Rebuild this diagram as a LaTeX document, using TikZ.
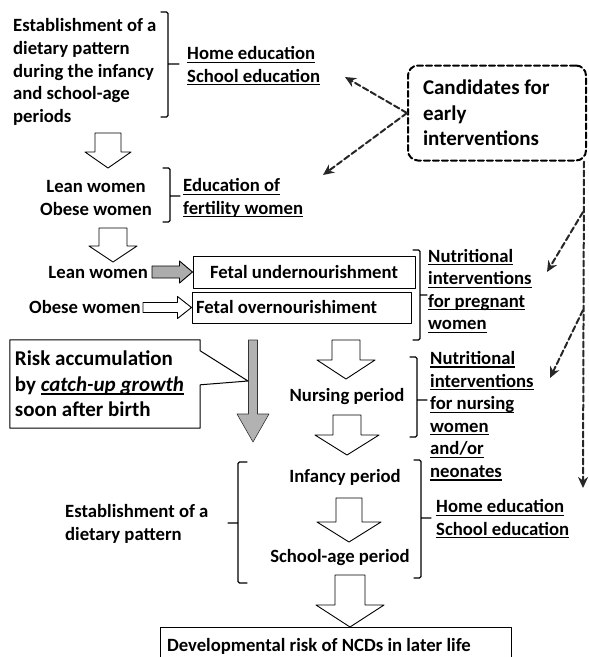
\documentclass[tikz,border=0pt]{standalone}
\usepackage{fontspec}
\setmainfont{Carlito}
\usetikzlibrary{arrows.meta,calc}

\newcommand{\ulw}[1]{\leavevmode\setbox0\hbox{#1}\rlap{\rule[-3.2pt]{\wd0}{1.2pt}}\box0}

\begin{document}
\begin{tikzpicture}[
  x=1pt, y=-1pt,
  line cap=round,
  line join=round,
  every node/.style={inner sep=0pt, font=\fontsize{18.7}{22.6}\selectfont\bfseries},
  txt/.style={anchor=west, align=flush left},
  bigtxt/.style={font=\fontsize{21}{25.5}\selectfont\bfseries},
  framebox/.style={draw, line width=1pt},
  bracket/.style={line width=1.3pt, rounded corners=1.5pt},
  blockdown/.style n args={3}{draw, line width=0.9pt, to path={
    let \p1=(\tikztostart), \p2=(\tikztotarget) in
    (\x1-#1,\y1) -- (\x1+#1,\y1) -- (\x1+#1,\y2+#3) -- (\x1+#2,\y2+#3)
    -- (\x2,\y2) -- (\x1-#2,\y2+#3) -- (\x1-#1,\y2+#3) -- cycle}},
  blockright/.style n args={3}{draw, line width=0.9pt, to path={
    let \p1=(\tikztostart), \p2=(\tikztotarget) in
    (\x1,\y1+#1) -- (\x1,\y1-#1) -- (\x2-#3,\y1-#1) -- (\x2-#3,\y1-#2)
    -- (\x2,\y2) -- (\x2-#3,\y1+#2) -- (\x2-#3,\y1+#1) -- cycle}},
  dasharr/.style={line width=2pt, black!85, dash pattern=on 6pt off 3pt,
    -{Stealth[length=11pt,width=10pt]}}
]
  \clip (0,0) rectangle (589,657);

  % Верхний блок
  \node[txt] (estab) at (13,72) {Establishment of a\\dietary pattern\\during the infancy\\and school-age\\periods};
  \node[txt] (home1) at (187,66) {\ulw{Home education}\\\ulw{School education}};
  \node[draw, line width=2pt, dash pattern=on 6pt off 3pt, rounded corners=10pt, bigtxt,
        align=flush left, text width=148pt, inner xsep=15pt, minimum height=95pt]
        (cand) at (497,113) {Candidates for\\early\\interventions};

  % Женщины
  \node[align=flush center] (women) at (96,198) {Lean women\\Obese women};
  \node[txt] (edu) at (183,198) {\ulw{Education of}\\\ulw{fertility women}};
  \node[anchor=east] (lean) at (148,272) {Lean women};
  \node[anchor=east] (obese) at (141,307.5) {Obese women};
  \node[framebox, minimum width=222pt, minimum height=32pt] (under) at (304,272) {Fetal undernourishment};
  \node[framebox, align=flush left, text width=211pt, inner xsep=4pt, minimum height=31pt]
        (over) at (301.5,307.5) {Fetal overnourishiment};
  \node[txt] (pregn) at (428,291) {\ulw{Nutritional}\\\ulw{interventions}\\\ulw{for pregnant}\\\ulw{women}};

  % После рождения
  \node[bigtxt, align=flush left, text width=180pt, inner xsep=5pt, minimum height=88pt]
        (risk) at (105,384) {Risk accumulation\\by \ulw{\itshape catch-up growth}\\soon after birth};
  \node (nursp) at (347,397) {Nursing period};
  \node[txt] (nurs) at (430,416) {\ulw{Nutritional}\\\ulw{interventions}\\\ulw{for nursing}\\\ulw{women}\\\ulw{and/or}\\\ulw{neonates}};
  \node (infp) at (345,477) {Infancy period};
  \node (schp) at (340,558) {School-age period};
  \node[txt] (estab2) at (65,524) {Establishment of a\\dietary pattern};
  \node[txt] (home2) at (436,519) {\ulw{Home education}\\\ulw{School education}};
  \node[framebox, align=flush left, text width=337pt, inner xsep=7pt, minimum height=38pt]
        (ncd) at (335.5,646) {Developmental risk of NCDs in later life};

  % Концы стрелок
  \coordinate (a1s) at (108,133);  \coordinate (a1e) at (108,168);
  \coordinate (a2s) at (113,228);  \coordinate (a2e) at (113,262);
  \coordinate (a3s) at (346,340);  \coordinate (a3e) at (346,379);
  \coordinate (a4s) at (347,415);  \coordinate (a4e) at (347,455);
  \coordinate (a5s) at (349,498);  \coordinate (a5e) at (349,542);
  \coordinate (a6s) at (350,575);  \coordinate (a6e) at (350,627);
  \coordinate (gs) at (152,272);   \coordinate (ge) at (under.west);
  \coordinate (ws) at (143,307.5); \coordinate (we) at (over.west);
  \coordinate (rs) at (253,340);   \coordinate (re) at (253,442);
  \coordinate (rt) at (248,381);
  \coordinate (t1) at (345,77);    \coordinate (t2) at (323,175);
  \coordinate (v0) at ([xshift=-3pt]cand.south east);
  \coordinate (v1) at (583,488);
  \coordinate (b1) at (583,212);   \coordinate (b1e) at (547,272);
  \coordinate (b2) at (583,310);   \coordinate (b2e) at (550,378);

  % Блочные стрелки
  \draw[blockdown={13pt}{23pt}{16pt}, fill=white] (a1s) to (a1e);
  \draw[blockdown={14pt}{24pt}{16pt}, fill=white] (a2s) to (a2e);
  \draw[blockdown={14pt}{29pt}{19pt}, fill=white] (a3s) to (a3e);
  \draw[blockdown={14pt}{32pt}{20pt}, fill=white] (a4s) to (a4e);
  \draw[blockdown={13pt}{32pt}{20pt}, fill=white] (a5s) to (a5e);
  \draw[blockdown={15pt}{34pt}{22pt}, fill=white] (a6s) to (a6e);
  \draw[blockright={6pt}{11pt}{13pt}, fill=gray!65] (gs) to (ge);
  \draw[blockright={5pt}{11pt}{14pt}, fill=white] (ws) to (we);
  \draw[blockdown={4.5pt}{16pt}{28pt}, fill=gray!60, draw=gray!40!black, line width=0.6pt] (rs) to (re);

  % Выноска
  \draw[line width=1pt] (risk.north west) -- (risk.north east) -- ([yshift=-11pt]risk.north east)
    -- (rt) -- ([yshift=-45pt]risk.north east) -- (risk.south east) -- (risk.south west) -- cycle;

  % Скобки
  \draw[bracket] (161,12) -- (168,12) -- (168,117) -- (161,117) (168,64) -- (179,64);
  \draw[bracket] (163,168) -- (170,168) -- (170,222) -- (163,222) (170,196) -- (180,196);
  \draw[bracket] (413,250) -- (420,250) -- (420,340) -- (413,340) (420,295) -- (427,295);
  \draw[bracket] (410,357) -- (417,357) -- (417,437) -- (410,437) (417,400) -- (427,400);
  \draw[bracket] (414,460) -- (421,460) -- (421,578) -- (414,578) (421,518) -- (431,518);
  \draw[bracket] (247,462) -- (238,462) -- (238,583) -- (247,583) (238,523) -- (228,523);

  % Пунктирные стрелки
  \draw[dasharr] (cand.west) -- (t1);
  \draw[dasharr] (cand.west) -- (t2);
  \draw[dasharr] (v0) -- (v1);
  \draw[dasharr] (b1) -- (b1e);
  \draw[dasharr] (b2) -- (b2e);
\end{tikzpicture}
\end{document}
